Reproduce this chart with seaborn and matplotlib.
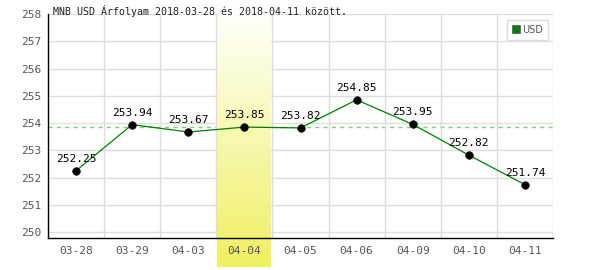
import numpy as np
import pandas as pd
import matplotlib
matplotlib.use("Agg")
import matplotlib.pyplot as plt
import seaborn as sns
from matplotlib.lines import Line2D

dates = ["03-28", "03-29", "04-03", "04-04", "04-05", "04-06", "04-09", "04-10", "04-11"]
usd = [252.25, 253.94, 253.67, 253.85, 253.82, 254.85, 253.95, 252.82, 251.74]
highlight_date = "04-04"
ref_value = 253.85
title = "MNB USD Árfolyam 2018-03-28 és 2018-04-11 között."
yticks = [250, 251, 252, 253, 254, 255, 256, 257, 258]

sns.set_theme(style="white")
plt.rcParams['font.family'] = ['DejaVu Sans Mono', 'DejaVu Sans']

df = pd.DataFrame({"idx": np.arange(len(dates)), "date": dates, "USD": usd})

fig = plt.figure(figsize=(6, 2.7), dpi=100)
ax = fig.add_axes([48/600, 1-238/270, (553-48)/600, (238-14)/270])

ylo, yhi = 249.78, 258.0

# highlight band with vertical gradient
hi = dates.index(highlight_date)
grad = np.linspace(0, 1, 256).reshape(-1, 1)
top = np.array([1.0, 1.0, 0.985])
bot = np.array([0.94, 0.94, 0.38])
img = top[None, None, :] * (1-grad[:, :, None]) + bot[None, None, :] * grad[:, :, None]
ybottom = ylo - (267-238)/27.2
ax.imshow(img, extent=[hi-0.48, hi+0.48, ybottom, yhi+0.03], aspect='auto',
          origin='upper', zorder=1.0, clip_on=False, interpolation='bilinear')
ax.set_xlim(-0.5, len(dates)-0.5)
ax.set_ylim(ylo, yhi)

# grid
ax.set_axisbelow(True)
ax.set_yticks(yticks)
ax.set_xticks(np.arange(len(dates)))
ax.set_xticklabels(dates)
ax.set_xticks(np.arange(len(dates)) + 0.5, minor=True)
ax.grid(False)
ax.yaxis.grid(True, color="#dddddd", linewidth=1)
ax.xaxis.grid(True, which='minor', color="#dddddd", linewidth=1)
ax.xaxis.set_zorder(1.2)
ax.tick_params(axis='both', which='both', length=0, labelsize=8, labelcolor="#555555")
ax.tick_params(axis='y', pad=5)
ax.tick_params(axis='x', pad=6)

# reference dashed line (under the band)
ax.axhline(ref_value, color="#7fcf7f", linestyle=(0, (3, 3)), linewidth=1, zorder=0.8)

sns.lineplot(data=df, x="idx", y="USD", color="#008000", linewidth=0.9, ax=ax,
             zorder=2, legend=False)
sns.scatterplot(data=df, x="idx", y="USD", color="black", s=30, ax=ax, zorder=3,
                edgecolor="black", legend=False)

for i, v in enumerate(usd):
    ax.annotate(f"{v:.2f}", (i, v), xytext=(0, 5), textcoords="offset points",
                ha="center", va="bottom", fontsize=8, color="black", zorder=4)

ax.set_xlabel("")
ax.set_ylabel("")

for s in ["top", "right"]:
    ax.spines[s].set_visible(False)
for s in ["left", "bottom"]:
    ax.spines[s].set_color("black")
    ax.spines[s].set_linewidth(1)
    ax.spines[s].set_zorder(2.5)

h = Line2D([], [], marker='s', color='#008000', linestyle='none', markersize=6,
           markeredgecolor='#555555', markeredgewidth=0.5)
leg = ax.legend([h], ["USD"], loc="upper right", bbox_to_anchor=(1.0, 0.995),
                frameon=True, fancybox=False, edgecolor="#dddddd",
                handlelength=0.8, handletextpad=0.3, borderpad=0.5, framealpha=1,
                prop={'family': 'DejaVu Sans', 'size': 7})
for t in leg.get_texts():
    t.set_color("#555555")

fig.text(53/600, 1-11/270, title, fontsize=7.2, color="#222222", va="center", ha="left")

fig.savefig("out.png", dpi=100)
